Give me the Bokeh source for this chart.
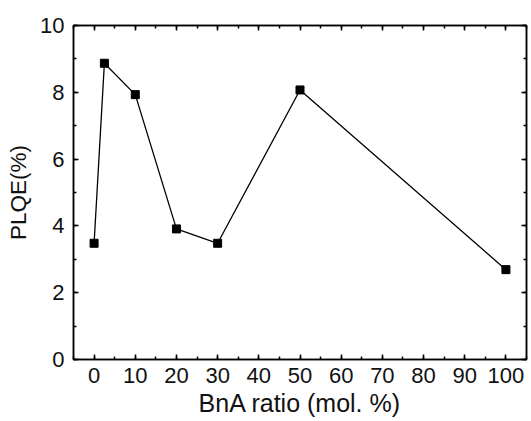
from bokeh.plotting import figure
from bokeh.models import LinearAxis, SingleIntervalTicker, Range1d, CustomJSTickFormatter
from bokeh.embed import file_html
from bokeh.resources import INLINE

bna_ratio = [0, 2.5, 10, 20, 30, 50, 100]
plqe = [3.48, 8.87, 7.93, 3.91, 3.48, 8.07, 2.69]
x_ticks_interval = 10
y_ticks_interval = 2

FONT = "Liberation Sans"

p = figure(width=531, height=421, output_backend="svg", toolbar_location=None,
           x_range=Range1d(-5, 105), y_range=Range1d(0, 10),
           x_axis_label="BnA ratio (mol. %)", y_axis_label="PLQE(%)",
           min_border_left=73, min_border_top=25, min_border_bottom=62, min_border_right=5)
p.grid.visible = False
p.outline_line_color = "black"
p.outline_line_width = 1.5

def style(ax, ticker, labels=True):
    ax.ticker = ticker
    ax.axis_line_color = "black"
    ax.axis_line_width = 1.5
    ax.major_tick_in = 5
    ax.major_tick_out = 0
    ax.minor_tick_in = 3
    ax.minor_tick_out = 0
    ax.major_tick_line_width = 1.5
    ax.minor_tick_line_width = 1.5
    ax.major_tick_line_color = "black"
    ax.minor_tick_line_color = "black"
    if labels:
        ax.major_label_text_font = FONT
        ax.major_label_text_font_size = "22px"
        ax.major_label_text_color = "#111111"
        ax.axis_label_text_font = FONT
        ax.axis_label_text_font_style = "normal"
        ax.axis_label_text_color = "#111111"
    else:
        ax.formatter = CustomJSTickFormatter(code="return ''")
        ax.major_label_standoff = 0

xt = SingleIntervalTicker(interval=x_ticks_interval, num_minor_ticks=2)
yt = SingleIntervalTicker(interval=y_ticks_interval, num_minor_ticks=2)

style(p.xaxis[0], xt)
style(p.yaxis[0], yt)
p.xaxis[0].axis_label_text_font_size = "25px"
p.yaxis[0].axis_label_text_font_size = "22.5px"
p.xaxis[0].major_label_standoff = 8
p.xaxis[0].axis_label_standoff = 3
p.yaxis[0].major_label_standoff = 9
p.yaxis[0].axis_label_standoff = 6

top = LinearAxis()
style(top, SingleIntervalTicker(interval=x_ticks_interval, num_minor_ticks=2), labels=False)
p.add_layout(top, "above")
right = LinearAxis()
style(right, SingleIntervalTicker(interval=y_ticks_interval, num_minor_ticks=2), labels=False)
p.add_layout(right, "right")

p.line(bna_ratio, plqe, line_color="black", line_width=1.3)
p.scatter(bna_ratio, plqe, marker="square", size=8, fill_color="black", line_color="black")

open("out.html", "w").write(file_html(p, INLINE))
